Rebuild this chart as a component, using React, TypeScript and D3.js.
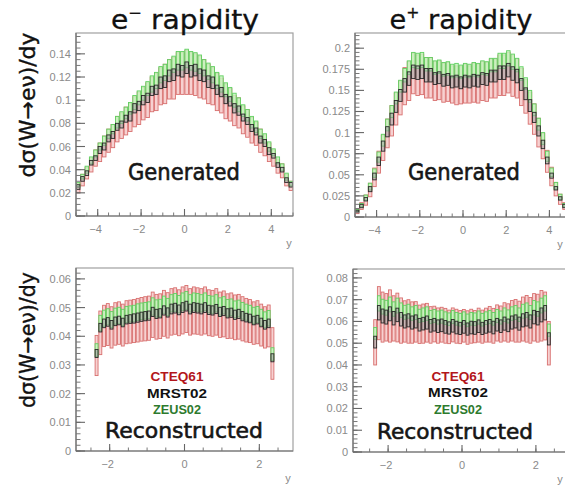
import * as d3 from "d3";
import React from "react";

// histogram binning
const GEN_BIN_START = -5;
const GEN_BIN_WIDTH = 0.2;
const REC_BIN_START = -2.4;
const REC_BIN_WIDTH = 0.1;

// e- generated, values in units of 1e-3
const emGenMrst = [25,32,37,46,50,57,60,67,70,77,79,84,86,93,95,100,102,108,109,115,116,121,122,126,125,128,125,126,122,121,116,115,109,107,101,99,93,91,85,82,76,73,66,63,56,52,44,40,31,27];
const emGenMrstErr = [2,2,2,2,2,3,3,3,3,3,3,3,4,4,4,4,4,4,4,5,5,5,5,5,5,5,5,5,5,5,5,5,4,4,4,4,4,4,3,3,3,3,3,3,3,2,2,2,2,2];
const emGenCteq = [24,31,37,44,50,55,60,65,69,75,78,82,85,90,93,97,100,105,107,112,114,118,119,123,123,124,123,122,120,118,114,112,107,104,99,96,91,89,83,80,74,71,65,61,55,50,43,39,31,26];
const emGenCteqErr = [4,5,5,6,7,8,9,10,10,11,11,12,12,13,14,14,15,15,16,16,17,17,18,18,18,19,18,18,18,17,17,16,16,15,15,14,13,13,12,12,11,10,10,9,8,7,6,6,5,4];
const emGenZeus = [27,34,40,48,54,60,65,71,75,81,85,89,93,98,102,106,110,114,117,122,124,128,131,134,134,136,134,133,131,128,125,122,117,114,109,105,100,96,91,87,81,77,71,67,60,55,48,42,34,28];
const emGenZeusErr = [2,2,3,3,3,3,4,4,4,5,5,5,5,6,6,6,6,7,7,7,7,7,7,8,8,8,8,8,8,7,7,7,7,7,6,6,6,6,5,5,5,5,4,4,4,3,3,3,3,2];

// e+ generated, values in units of 1e-3
const epGenMrst = [7,13,21,33,48,66,84,101,116,131,144,156,164,172,171,172,168,168,164,165,162,163,160,161,159,161,160,162,161,164,163,167,167,171,171,174,170,167,157,146,132,118,102,86,67,49,34,22,13,7];
const epGenMrstErr = [1,2,2,3,4,5,6,6,7,7,7,8,8,8,8,8,8,8,7,7,7,7,7,7,7,7,7,7,7,7,7,7,7,8,8,8,8,8,7,7,7,6,6,5,4,3,2,2,2,1];
const epGenCteq = [7,13,20,32,47,65,82,99,114,128,141,155,161,170,168,169,165,165,161,162,159,160,157,156,156,158,157,159,158,161,160,164,164,168,168,171,167,164,154,143,129,116,100,84,66,48,33,21,13,7];
const epGenCteqErr = [3,4,6,8,11,13,15,17,18,19,20,22,23,24,24,24,24,24,23,23,23,23,22,23,22,23,22,23,23,23,23,23,23,24,24,24,24,23,22,20,19,18,17,15,13,11,8,6,4,3];
const epGenZeus = [8,14,23,36,52,71,91,109,125,141,155,168,177,186,185,186,181,181,177,178,175,176,173,174,172,174,173,175,174,177,176,180,180,185,185,188,184,180,170,158,143,127,110,93,72,53,37,24,14,8];
const epGenZeusErr = [1,2,3,4,5,6,7,7,7,7,7,8,8,9,9,9,8,8,8,8,8,8,8,8,8,8,8,8,8,8,8,8,8,9,9,9,9,8,8,7,7,7,7,7,6,5,4,3,2,1];

// e- reconstructed, values in units of 1e-4
const emRecMrst = [340,430,445,450,440,452,455,448,458,460,462,465,468,470,472,485,478,480,490,483,495,498,492,500,505,495,500,498,495,500,492,490,495,485,488,480,482,475,478,470,465,462,455,458,448,440,445,325];
const emRecMrstErr = [14,15,15,15,15,15,15,15,15,15,16,16,16,16,16,16,16,16,16,16,17,17,17,17,17,17,17,17,17,17,16,16,16,16,16,16,16,16,16,16,15,15,15,15,15,15,15,14];
const emRecCteq = [333,412,436,441,431,443,446,439,449,451,453,456,459,461,463,475,468,470,480,473,485,488,482,490,495,485,490,488,485,490,482,480,485,475,478,470,472,466,468,461,456,453,446,449,439,431,436,340];
const emRecCteqErr = [70,76,72,73,72,74,74,73,75,75,75,76,76,77,77,79,78,78,80,79,81,81,80,82,82,81,82,81,81,82,80,80,81,79,80,78,79,78,78,77,76,75,74,75,73,72,73,90];
const emRecZeus = [352,446,463,468,458,470,473,466,476,478,480,484,487,489,491,504,497,499,510,502,515,518,512,520,525,515,520,518,515,520,512,510,515,504,508,499,501,494,497,489,484,480,473,476,466,458,463,338];
const emRecZeusErr = [22,27,28,28,28,28,28,28,28,28,28,29,29,29,29,30,30,30,30,30,30,31,30,31,31,30,31,31,30,31,30,30,30,30,30,29,29,29,29,29,28,28,28,28,28,27,27,22];

// e+ reconstructed, values in units of 1e-4
const epRecMrst = [505,640,625,620,635,615,630,610,600,605,595,600,585,590,595,580,585,578,582,575,570,580,572,568,575,565,572,570,578,568,575,580,572,585,578,590,582,595,600,590,605,610,600,620,615,630,640,520];
const epRecMrstErr = [27,33,32,32,32,31,31,31,30,30,30,30,29,29,30,29,29,29,29,29,28,29,29,28,29,28,29,29,29,28,29,29,29,29,29,30,29,30,30,30,30,31,30,31,31,32,33,28];
const epRecCteq = [504,638,620,619,625,614,618,604,600,600,595,598,587,590,594,584,588,581,585,580,575,584,578,574,580,572,578,576,583,576,583,587,580,593,588,598,593,603,603,599,611,612,605,619,615,626,625,500];
const epRecCteqErr = [104,122,115,109,120,104,112,104,95,100,95,93,88,90,89,84,82,81,80,80,77,78,78,76,75,77,78,74,78,76,78,82,80,83,83,88,88,93,98,94,101,107,105,109,110,116,110,100];
const epRecZeus = [545,683,668,663,678,657,673,652,642,647,636,641,626,631,636,620,625,618,622,615,610,620,612,608,615,605,612,610,618,608,615,620,612,625,618,631,623,636,641,631,647,652,641,663,657,673,683,560];
const epRecZeusErr = [27,35,34,34,34,33,34,33,32,32,31,32,30,31,31,30,30,30,30,29,29,30,29,29,29,29,29,29,30,29,29,30,29,30,30,31,30,31,32,31,32,33,32,33,33,34,35,28];

// axis ticks
const genXTicks = [-4, -2, 0, 2, 4];
const recXTicks = [-2, 0, 2];
const emGenYTicks = [0, 0.02, 0.04, 0.06, 0.08, 0.1, 0.12, 0.14];
const epGenYTicks = [0, 0.025, 0.05, 0.075, 0.1, 0.125, 0.15, 0.175, 0.2];
const emRecYTicks = [0, 0.01, 0.02, 0.03, 0.04, 0.05, 0.06];
const epRecYTicks = [0, 0.01, 0.02, 0.03, 0.04, 0.05, 0.06, 0.07, 0.08];

const legendNames = ["CTEQ61", "MRST02", "ZEUS02"];
const legendColors = ["#b3161b", "#111", "#2d7a2d"];

const STYLE = {
  cteq: { stroke: "#d8706f", fill: "#f5c6c6", opacity: 0.8 },
  zeus: { stroke: "#62d062", fill: "#c6f5bd", opacity: 0.85 },
  mrst: { stroke: "#2a2a2a", fill: "#9a9a9a", opacity: 0.5 },
};

const COMIC = "'DejaVu Sans', Verdana, sans-serif";
const TICKFONT = "'Liberation Sans', Arial, sans-serif";

type Series = { c: number[]; e: number[] };
type PanelProps = {
  id: string;
  frame: { x: number; y: number; w: number; h: number };
  xDomain: [number, number];
  yMax: number;
  yTicks: number[];
  yMinorStep: number;
  xTicks: number[];
  binStart: number;
  binWidth: number;
  unit: number;
  yLabelX: number;
  cteq: Series;
  mrst: Series;
  zeus: Series;
};

function Panel(p: PanelProps) {
  const { x, y, w, h } = p.frame;
  const xs = d3.scaleLinear().domain(p.xDomain).range([x, x + w]);
  const ys = d3.scaleLinear().domain([0, p.yMax]).range([y + h, y]);

  const boxes = (s: Series, st: typeof STYLE.cteq, key: string) =>
    s.c.map((v, i) => {
      const x0 = xs(p.binStart + i * p.binWidth);
      const x1 = xs(p.binStart + (i + 1) * p.binWidth);
      const top = ys((v + s.e[i]) * p.unit);
      const bot = ys((v - s.e[i]) * p.unit);
      return (
        <rect
          key={key + i}
          x={x0 + 0.4}
          y={top}
          width={x1 - x0 - 0.8}
          height={Math.max(1, bot - top)}
          fill={st.fill}
          fillOpacity={st.opacity}
          stroke={st.stroke}
          strokeWidth={0.9}
        />
      );
    });

  const yMinor = d3.range(0, p.yMax, p.yMinorStep);
  const xMinor = d3.range(Math.ceil(p.xDomain[0] / 0.5) * 0.5, p.xDomain[1] + 1e-9, 0.5);

  return (
    <g>
      <clipPath id={"clip-" + p.id}>
        <rect x={x} y={y} width={w} height={h} />
      </clipPath>
      <g clipPath={`url(#clip-${p.id})`}>
        {boxes(p.cteq, STYLE.cteq, "c")}
        {boxes(p.zeus, STYLE.zeus, "z")}
        {boxes(p.mrst, STYLE.mrst, "m")}
      </g>
      <rect x={x} y={y} width={w} height={h} fill="none" stroke="#a0a0a0" strokeWidth={1.2} />
      <line x1={x} x2={x} y1={y} y2={y + h} stroke="#707070" strokeWidth={1.2} />
      <line x1={x} x2={x + w} y1={y + h} y2={y + h} stroke="#707070" strokeWidth={1.2} />
      {yMinor.map((v, i) => (
        <line key={"ym" + i} x1={x} x2={x + 4.5} y1={ys(v)} y2={ys(v)} stroke="#777" strokeWidth={1} />
      ))}
      {p.yTicks.map((v) => (
        <g key={"yt" + v}>
          <line x1={x} x2={x + 9} y1={ys(v)} y2={ys(v)} stroke="#666" strokeWidth={1.1} />
          <text x={x - 5} y={ys(v) + 4} textAnchor="end" fontSize={11} fontFamily={TICKFONT} fill="#8a8a8a">
            {String(v)}
          </text>
        </g>
      ))}
      {xMinor.map((v, i) => (
        <line key={"xm" + i} x1={xs(v)} x2={xs(v)} y1={y + h} y2={y + h - 3.5} stroke="#777" strokeWidth={1} />
      ))}
      {p.xTicks.map((v) => (
        <g key={"xt" + v}>
          <line x1={xs(v)} x2={xs(v)} y1={y + h} y2={y + h - 7} stroke="#666" strokeWidth={1.1} />
          <text x={xs(v) - (v < 0 ? 2 : 0)} y={y + h + 17} textAnchor="middle" fontSize={11} fontFamily={TICKFONT} fill="#8a8a8a">
            {v < 0 ? "\u2212" + Math.abs(v) : String(v)}
          </text>
        </g>
      ))}
      <text x={p.yLabelX} y={y + h + 31} textAnchor="middle" fontSize={11} fontFamily={TICKFONT} fill="#8a8a8a">
        y
      </text>
    </g>
  );
}

function Title({ x, sign, len }: { x: number; sign: string; len: number }) {
  return (
    <text x={x} y={29} textAnchor="middle" fontSize={26} fontFamily={COMIC} fill="#111" stroke="#111" strokeWidth={0.3} textLength={len} lengthAdjust="spacingAndGlyphs">
      e
      <tspan fontSize={15} dy={-11}>{sign}</tspan>
      <tspan dy={11}> rapidity</tspan>
    </text>
  );
}

function YTitle({ cy, len }: { cy: number; len: number }) {
  return (
    <text
      transform={`translate(35, ${cy}) rotate(-90)`}
      textAnchor="middle"
      fontSize={22}
      fontFamily={COMIC}
      fill="#111"
      stroke="#111"
      strokeWidth={0.4}
      textLength={len}
      lengthAdjust="spacingAndGlyphs"
    >
      dσ(W→eν)/dy
    </text>
  );
}

function Legend({ cx, ys }: { cx: number; ys: number[] }) {
  const lens = [53, 60, 48];
  return (
    <g>
      {legendNames.map((n, i) => (
        <text
          key={n}
          x={cx}
          y={ys[i]}
          textAnchor="middle"
          fontSize={12}
          fontWeight="bold"
          fontFamily="'Liberation Sans Narrow', 'Arial Narrow', 'Liberation Sans', sans-serif"
          fill={legendColors[i]}
          textLength={lens[i]}
          lengthAdjust="spacingAndGlyphs"
        >
          {n}
        </text>
      ))}
    </g>
  );
}

function Tag({ x, y, text, len, size }: { x: number; y: number; text: string; len: number; size: number }) {
  return (
    <text x={x} y={y} textAnchor="middle" fontSize={size} fontFamily={COMIC} fill="#161616" stroke="#161616" strokeWidth={0.6} textLength={len} lengthAdjust="spacingAndGlyphs">
      {text}
    </text>
  );
}

export default function App() {
  return (
    <svg
      width={565}
      height={485}
      viewBox="0 0 565 485"
      style={{ position: "absolute", left: 0, top: 0, background: "#fff" }}
    >
      <Panel
        id="tl"
        frame={{ x: 76, y: 33, w: 217, h: 183 }}
        xDomain={[-5, 5]}
        yMax={0.158}
        yTicks={emGenYTicks}
        yMinorStep={0.005}
        xTicks={genXTicks}
        binStart={GEN_BIN_START}
        binWidth={GEN_BIN_WIDTH}
        unit={1e-3}
        yLabelX={289}
        cteq={{ c: emGenCteq, e: emGenCteqErr }}
        mrst={{ c: emGenMrst, e: emGenMrstErr }}
        zeus={{ c: emGenZeus, e: emGenZeusErr }}
      />
      <Panel
        id="tr"
        frame={{ x: 355, y: 33, w: 216, h: 184 }}
        xDomain={[-5, 5]}
        yMax={0.218}
        yTicks={epGenYTicks}
        yMinorStep={0.005}
        xTicks={genXTicks}
        binStart={GEN_BIN_START}
        binWidth={GEN_BIN_WIDTH}
        unit={1e-3}
        yLabelX={560}
        cteq={{ c: epGenCteq, e: epGenCteqErr }}
        mrst={{ c: epGenMrst, e: epGenMrstErr }}
        zeus={{ c: epGenZeus, e: epGenZeusErr }}
      />
      <Panel
        id="bl"
        frame={{ x: 76, y: 268, w: 217, h: 183 }}
        xDomain={[-2.9, 2.9]}
        yMax={0.0638}
        yTicks={emRecYTicks}
        yMinorStep={0.002}
        xTicks={recXTicks}
        binStart={REC_BIN_START}
        binWidth={REC_BIN_WIDTH}
        unit={1e-4}
        yLabelX={288}
        cteq={{ c: emRecCteq, e: emRecCteqErr }}
        mrst={{ c: emRecMrst, e: emRecMrstErr }}
        zeus={{ c: emRecZeus, e: emRecZeusErr }}
      />
      <Panel
        id="br"
        frame={{ x: 353, y: 269, w: 218, h: 183 }}
        xDomain={[-2.95, 2.95]}
        yMax={0.0841}
        yTicks={epRecYTicks}
        yMinorStep={0.002}
        xTicks={recXTicks}
        binStart={REC_BIN_START}
        binWidth={REC_BIN_WIDTH}
        unit={1e-4}
        yLabelX={560}
        cteq={{ c: epRecCteq, e: epRecCteqErr }}
        mrst={{ c: epRecMrst, e: epRecMrstErr }}
        zeus={{ c: epRecZeus, e: epRecZeusErr }}
      />

      <Title x={185} sign="−" len={148} />
      <Title x={461} sign="+" len={143} />
      <YTitle cy={105} len={145} />
      <YTitle cy={340} len={136} />

      <Tag x={184} y={180} text="Generated" len={112} size={23} />
      <Tag x={464} y={180} text="Generated" len={112} size={23} />
      <Tag x={184} y={438} text="Reconstructed" len={158} size={21} />
      <Tag x={455} y={439} text="Reconstructed" len={156} size={21} />

      <Legend cx={177} ys={[381, 398, 414]} />
      <Legend cx={458} ys={[381, 397, 414]} />
    </svg>
  );
}
